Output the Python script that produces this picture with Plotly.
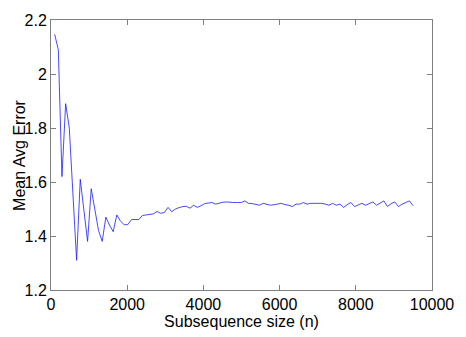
import plotly.graph_objects as go

# Subsequence sizes (sampled every 96) and the mean average error at each size
step = 96
sizes = list(range(step, step * 99 + 1, step))
mean_avg_error = [
    2.147, 2.090, 1.620, 1.890, 1.800, 1.560, 1.310, 1.610, 1.500, 1.380,
    1.575, 1.500, 1.420, 1.380, 1.470, 1.440, 1.416, 1.478, 1.455, 1.442,
    1.442, 1.461, 1.462, 1.461, 1.476, 1.478, 1.479, 1.482, 1.491, 1.484,
    1.487, 1.506, 1.490, 1.500, 1.505, 1.509, 1.510, 1.503, 1.514, 1.506,
    1.512, 1.520, 1.522, 1.524, 1.518, 1.522, 1.525, 1.526, 1.524, 1.524,
    1.524, 1.524, 1.530, 1.521, 1.520, 1.518, 1.514, 1.521, 1.517, 1.514,
    1.516, 1.519, 1.521, 1.516, 1.514, 1.509, 1.518, 1.518, 1.524, 1.518,
    1.521, 1.521, 1.521, 1.521, 1.518, 1.514, 1.521, 1.514, 1.518, 1.506,
    1.516, 1.524, 1.509, 1.516, 1.521, 1.514, 1.520, 1.526, 1.514, 1.522,
    1.530, 1.509, 1.520, 1.526, 1.509, 1.518, 1.524, 1.530, 1.512,
]

x_ticks = [0, 2000, 4000, 6000, 8000, 10000]
y_ticks = [1.2, 1.4, 1.6, 1.8, 2.0, 2.2]
y_tick_text = ["1.2", "1.4", "1.6", "1.8", "2", "2.2"]

font_family = "Liberation Sans, Arial, sans-serif"
text_font = dict(family=font_family, size=16, color="black")

fig = go.Figure(
    go.Scatter(
        x=sizes,
        y=mean_avg_error,
        mode="lines",
        line=dict(color="#1a1aff", width=0.8),
        showlegend=False,
    )
)

axis_common = dict(
    showgrid=False,
    zeroline=False,
    showline=True,
    linecolor="#7f7f7f",
    linewidth=1,
    mirror="allticks",
    ticks="inside",
    ticklen=5,
    tickcolor="#7f7f7f",
    tickfont=text_font,
)

fig.update_layout(
    width=466,
    height=337,
    margin=dict(l=51, r=23, t=12, b=47),
    paper_bgcolor="white",
    plot_bgcolor="white",
    font=text_font,
    xaxis=dict(
        range=[0, 10000],
        tickvals=x_ticks,
        ticktext=[str(v) for v in x_ticks],
        title=dict(text="Subsequence size (n)", standoff=0, font=text_font),
        **axis_common,
    ),
    yaxis=dict(
        range=[1.2, 2.2],
        tickvals=y_ticks,
        ticktext=y_tick_text,
        **axis_common,
    ),
    # y-axis title placed as a rotated annotation so it sits close to the tick labels
    annotations=[
        dict(
            text="Mean Avg Error",
            xref="paper", yref="paper",
            x=-33 / 392, y=0.5,
            xanchor="center", yanchor="middle",
            textangle=-90,
            showarrow=False,
            font=text_font,
        )
    ],
)

fig.write_html("out.html")
